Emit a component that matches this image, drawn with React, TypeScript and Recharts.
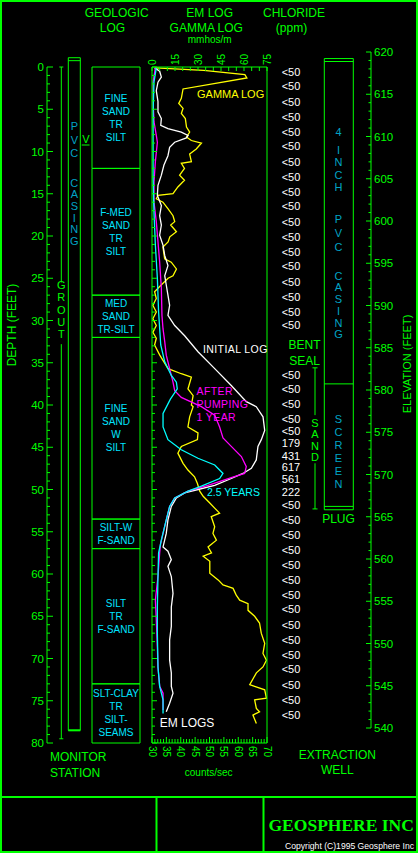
import React from "react";
import {
  ComposedChart,
  Line,
  Scatter,
  XAxis,
  YAxis,
  ReferenceArea,
  ReferenceLine,
} from "recharts";

const GREEN = "#00ff00";
const YELLOW = "#ffff00";
const MAGENTA = "#ff00ff";
const CYAN = "#00ffff";
const GEO_TEXT = "#00e4ff";
const TEAL = "#00a4c4";
const FONT = "'Liberation Sans', Arial, sans-serif";

// shared vertical layout: depth 0 ft at y=67, 80 ft at y=743
const PANEL_TOP = 67;
const PANEL_BOTTOM = 743;
const PANEL_LEFT = 152;
const PANEL_RIGHT = 267;
const DEPTH_AXIS_X = 47;
const ELEV_AXIS_X = 371;
const CHLORIDE_X = 291;

// gamma log: [depth ft, counts/sec]
const gammaLog: [number, number][] = [
  [0.1, 31.1], [0.4, 48.0], [0.9, 62.3], [1.3, 63.0], [2.6, 40.8], [3.7, 40.2], [4.3, 39.3],
  [4.9, 40.8], [5.5, 40.2], [6.1, 41.6], [7.1, 42.0], [7.7, 43.1], [8.3, 42.0], [8.7, 43.7],
  [9.0, 47.2], [9.7, 45.4], [10.3, 43.1], [11.2, 43.7], [11.4, 40.2], [12.0, 41.3], [12.8, 39.6],
  [13.4, 41.3], [14.2, 39.0], [15.0, 37.3], [15.2, 32.1], [15.6, 31.5], [16.0, 33.8], [16.8, 35.6],
  [17.6, 37.3], [18.3, 37.9], [18.7, 36.5], [19.5, 38.5], [20.1, 36.2], [20.7, 35.6], [21.3, 33.8],
  [22.7, 34.4], [23.1, 36.7], [23.9, 38.5], [24.7, 37.3], [25.0, 35.6], [25.8, 33.2], [26.6, 30.9],
  [27.4, 31.5], [28.2, 30.3], [29.0, 31.5], [29.8, 30.3], [30.6, 31.5], [31.4, 30.3], [32.1, 31.5],
  [32.9, 30.9], [34.1, 32.7], [35.7, 35.6], [36.3, 40.2], [36.7, 43.7], [38.1, 42.5], [38.9, 44.3],
  [40.0, 43.7], [40.2, 44.3], [41.4, 43.1], [42.6, 42.5], [43.3, 46.0], [44.1, 45.8], [44.9, 40.2],
  [45.7, 39.0], [46.9, 40.8], [47.7, 42.5], [48.5, 44.8], [49.3, 45.8], [50.2, 46.6], [50.8, 47.8],
  [51.6, 50.1], [52.2, 51.8], [52.8, 53.5], [53.2, 50.6], [54.4, 51.8], [55.2, 51.2], [56.0, 52.4],
  [56.8, 49.5], [57.5, 50.7], [57.9, 47.8], [58.5, 50.1], [59.9, 50.1], [60.7, 53.0], [61.3, 54.7],
  [61.5, 56.5], [61.7, 58.2], [62.5, 59.3], [63.1, 60.5], [63.5, 63.4], [64.3, 63.4], [65.0, 65.7],
  [65.8, 67.4], [67.0, 68.0], [68.2, 69.2], [69.4, 68.6], [70.2, 69.8], [71.0, 68.6], [71.7, 66.3],
  [73.1, 64.0], [73.3, 65.7], [73.7, 69.2], [74.7, 69.8], [74.9, 65.7], [75.9, 66.3], [76.3, 67.4],
  [76.7, 65.1], [77.7, 66.3],
];

// EM logs: [depth ft, mmhos/m]
const initialLog: [number, number][] = [
  [0.1, 1.7], [0.5, 5.0], [1.2, 6.1], [1.8, 3.9], [2.8, 2.8], [4.1, 3.9], [5.3, 3.9], [6.1, 6.1],
  [6.9, 5.7], [7.3, 10.4], [7.7, 19.1], [8.1, 23.5], [8.4, 22.4], [8.9, 14.8], [9.5, 11.5],
  [10.5, 10.4], [11.6, 7.8], [12.8, 6.1], [14.0, 3.9], [15.2, 3.5], [16.4, 6.1], [17.6, 5.0],
  [18.7, 6.1], [19.9, 5.0], [21.1, 7.2], [22.3, 8.3], [23.5, 10.4], [24.7, 8.3], [25.8, 9.3],
  [27.0, 10.4], [28.2, 11.5], [29.4, 10.4], [30.6, 14.8], [31.8, 21.3], [33.7, 30.0], [35.7, 40.9],
  [37.7, 51.7], [39.6, 61.5], [40.2, 68.0], [41.4, 72.4], [43.0, 73.5], [44.1, 71.3], [44.9, 69.1],
  [46.5, 68.0], [47.5, 64.8], [48.1, 59.3], [48.7, 51.7], [49.5, 40.9], [50.0, 30.0], [50.4, 21.3],
  [51.0, 15.9], [52.0, 12.6], [53.6, 10.4], [55.2, 9.3], [56.8, 7.2], [57.3, 10.4], [58.3, 12.6],
  [59.1, 10.4], [60.3, 12.6], [62.3, 13.7], [63.9, 12.6], [66.2, 12.6], [67.8, 11.5], [70.2, 11.5],
  [71.7, 12.6], [73.3, 12.6], [74.1, 13.7], [75.3, 11.5], [76.3, 9.3],
];

const afterOneYear: [number, number][] = [
  [0.1, 2.2], [1.8, 0.7], [4.1, 0.7], [6.5, 1.3], [8.1, 2.8], [8.9, 3.5], [11.2, 2.2], [13.6, 1.3],
  [16.0, 1.3], [18.3, 2.8], [20.7, 3.9], [23.1, 5.0], [26.2, 6.1], [29.4, 6.5], [31.0, 7.2],
  [32.5, 8.3], [34.1, 9.3], [35.7, 11.5], [37.3, 13.7], [38.3, 14.8], [39.1, 19.1], [40.2, 32.2],
  [41.2, 40.9], [42.6, 44.1], [43.9, 46.3], [44.9, 51.7], [46.1, 58.3], [47.3, 61.5], [48.1, 60.4],
  [48.6, 51.7], [49.5, 36.5], [50.2, 23.5], [51.0, 14.8], [52.0, 11.5], [53.6, 9.3], [55.2, 7.2],
  [56.4, 5.6], [57.5, 5.0], [60.3, 3.9], [63.1, 2.2], [65.4, 2.8], [68.6, 3.5], [71.0, 3.9],
  [73.3, 5.0], [74.1, 7.2], [76.1, 7.2],
];

const afterTwoHalfYears: [number, number][] = [
  [0.1, 2.8], [1.8, 1.3], [5.3, 0.7], [9.3, 0.7], [13.2, 0.7], [17.2, 1.3], [21.1, 2.2], [25.0, 3.5],
  [29.0, 4.3], [32.9, 5.7], [34.9, 8.3], [36.5, 12.6], [37.3, 15.9], [38.1, 16.5], [39.3, 12.0],
  [41.0, 7.2], [42.6, 7.2], [44.1, 10.4], [45.3, 19.1], [46.3, 30.0], [47.1, 40.9], [48.1, 46.3],
  [48.7, 44.1], [49.6, 32.2], [50.2, 23.5], [51.0, 14.8], [52.0, 11.5], [53.6, 9.3], [56.0, 6.1],
  [57.5, 4.3], [60.3, 3.9], [63.9, 3.5], [67.0, 3.5], [71.0, 3.9], [73.3, 5.0], [74.9, 7.2],
  [76.5, 7.2],
];

// chloride sample depths (ft) and results (ppm)
const chlorideDepths = [
  0.6, 2.3, 4.1, 5.9, 7.7, 9.4, 11.2, 13.0, 14.8, 16.5, 18.3, 20.1, 21.9, 23.6, 25.4, 27.2, 29.0, 30.5,
  36.4, 38.1, 39.9, 41.7, 43.1, 44.5, 46.0, 47.3, 48.8, 50.3, 51.8,
  53.6, 55.4, 57.2, 58.9, 60.7, 62.5, 64.2, 66.0, 67.8, 69.6, 71.3, 73.1, 74.9, 76.7,
];
const chlorideValues = [
  "<50", "<50", "<50", "<50", "<50", "<50", "<50", "<50", "<50", "<50", "<50", "<50", "<50", "<50",
  "<50", "<50", "<50", "<50",
  "<50", "<50", "<50", "<50", "<50", "179", "431", "617", "561", "222", "<50",
  "<50", "<50", "<50", "<50", "<50", "<50", "<50", "<50", "<50", "<50", "<50", "<50", "<50", "<50",
];

// geologic log intervals (ft)
const geoTops = [0, 12, 27, 32, 53.5, 57, 73];
const geoBottoms = [12, 27, 32, 53.5, 57, 73, 80];
const geoLabels = [
  ["FINE", "SAND", "TR", "SILT"],
  ["F-MED", "SAND", "TR", "SILT"],
  ["MED", "SAND", "TR-SILT"],
  ["FINE", "SAND", "W", "SILT"],
  ["SILT-W", "F-SAND"],
  ["SILT", "TR", "F-SAND"],
  ["SLT-CLAY", "TR", "SILT-", "SEAMS"],
];

// well construction (ft below ground)
const monitorCasing = { top: -1.1, cap: -0.75, bottom: 78.5 };
const monitorGrout = { top: 0, gapTop: 25.5, gapBottom: 32.8, bottom: 79.5 };
const extractionCasing = { top: -1.0, cap: -0.65, screenTop: 37.5, plugTop: 52.0, bottom: 52.4 };
const sandPack = { top: 35.6, gapTop: 41.2, gapBottom: 46.9, bottom: 52.3 };

// axis ticks
const emTicks = [0, 5, 10, 15, 20, 25, 30, 35, 40, 45, 50, 55, 60, 65, 70, 75];
const gammaTicks = Array.from({ length: 41 }, (_, i) => 30 + i);
const depthTicks = Array.from({ length: 81 }, (_, i) => i);
const elevTicks = Array.from({ length: 81 }, (_, i) => 540 + i);

const toRows = (pairs: [number, number][]) => pairs.map(([depth, value]) => ({ depth, value }));
const chlorideRows = chlorideDepths.map((depth, i) => ({ depth, ppm: chlorideValues[i] }));
const elevRows = elevTicks.map((elevation) => ({ elevation }));

const txt = (size: number, color: string) => ({
  fontFamily: FONT,
  fontSize: size,
  fill: color,
});

const EmTick = (p: any) => {
  const v = p.payload.value;
  return (
    <g>
      <line x1={p.x} x2={p.x} y1={PANEL_TOP} y2={PANEL_TOP + 4} stroke={GREEN} />
      {v % 15 === 0 && (
        <text
          x={p.x}
          y={PANEL_TOP - 2}
          transform={`rotate(-90 ${p.x} ${PANEL_TOP - 2})`}
          textAnchor="start"
          dominantBaseline="central"
          {...txt(10, GREEN)}
        >
          {v}
        </text>
      )}
    </g>
  );
};

const GammaTick = (p: any) => {
  const v = p.payload.value;
  const major = v % 5 === 0;
  return (
    <g>
      <line x1={p.x} x2={p.x} y1={PANEL_BOTTOM} y2={PANEL_BOTTOM - (major ? 6 : 4)} stroke={GREEN} />
      {major && (
        <text
          x={p.x}
          y={PANEL_BOTTOM + 3}
          transform={`rotate(90 ${p.x} ${PANEL_BOTTOM + 3})`}
          textAnchor="start"
          dominantBaseline="central"
          {...txt(10, GREEN)}
        >
          {v}
        </text>
      )}
    </g>
  );
};

const PanelDepthTick = (p: any) => {
  const major = p.payload.value % 5 === 0;
  return <line x1={PANEL_LEFT} x2={PANEL_LEFT + (major ? 5 : 3)} y1={p.y} y2={p.y} stroke={GREEN} />;
};

const DepthTick = (p: any) => {
  const v = p.payload.value;
  const major = v % 5 === 0;
  return (
    <g>
      <line x1={DEPTH_AXIS_X} x2={DEPTH_AXIS_X + (major ? 6 : 3)} y1={p.y} y2={p.y} stroke={GREEN} />
      {major && (
        <text x={DEPTH_AXIS_X - 3} y={p.y} textAnchor="end" dominantBaseline="central" {...txt(11.5, GREEN)}>
          {v}
        </text>
      )}
    </g>
  );
};

const ElevTick = (p: any) => {
  const v = p.payload.value;
  const major = v % 5 === 0;
  return (
    <g>
      <line x1={ELEV_AXIS_X} x2={ELEV_AXIS_X - (major ? 5 : 2.5)} y1={p.y} y2={p.y} stroke={GREEN} />
      {major && (
        <text x={ELEV_AXIS_X + 3} y={p.y} textAnchor="start" dominantBaseline="central" {...txt(11.5, GREEN)}>
          {v}
        </text>
      )}
    </g>
  );
};

const geoLabel = (lines: string[]) => (props: any) => {
  const vb = props.viewBox || {};
  const cx = vb.x + vb.width / 2;
  const cy = vb.y + vb.height / 2;
  const step = 13;
  const start = cy - ((lines.length - 1) * step) / 2;
  return (
    <g>
      {lines.map((l, i) => (
        <text key={i} x={cx} y={start + i * step} textAnchor="middle" dominantBaseline="central" {...txt(10, GEO_TEXT)}>
          {l}
        </text>
      ))}
    </g>
  );
};

const ChlorideText = (p: any) => (
  <text x={p.cx} y={p.cy} textAnchor="middle" dominantBaseline="central" {...txt(11, "#ffffff")}>
    {p.payload.ppm}
  </text>
);

function Stack({ word, x, y, step, color, size = 11 }: any) {
  return (
    <g>
      {word.split("").map((c: string, i: number) => (
        <text key={i} x={x} y={y + i * step} textAnchor="middle" dominantBaseline="central" {...txt(size, color)}>
          {c}
        </text>
      ))}
    </g>
  );
}

const abs = (left: number): React.CSSProperties => ({ position: "absolute", left, top: 0 });

export default function App() {
  const seg = (x1: number, y1: number, x2: number, y2: number, w = 1) => (
    <ReferenceLine
      xAxisId="px"
      yAxisId="d"
      segment={[{ x: x1, y: y1 }, { x: x2, y: y2 }]}
      stroke={GREEN}
      strokeWidth={w}
      ifOverflow="visible"
    />
  );

  return (
    <div style={{ position: "fixed", left: 0, top: 0, width: 418, height: 853, background: "#000", overflow: "hidden" }}>
      {/* schematic columns, depth axis and chloride values */}
      <div style={abs(0)}>
        <ComposedChart width={418} height={853} margin={{ top: PANEL_TOP, right: 0, bottom: 853 - PANEL_BOTTOM, left: DEPTH_AXIS_X - 40 }}>
          <XAxis xAxisId="px" type="number" dataKey={() => CHLORIDE_X} domain={[DEPTH_AXIS_X, 418]} hide />
          <YAxis
            yAxisId="d"
            type="number"
            dataKey="depth"
            domain={[0, 80]}
            reversed
            width={40}
            ticks={depthTicks}
            interval={0}
            tickSize={0}
            tickLine={false}
            axisLine={{ stroke: GREEN }}
            tick={DepthTick}
          />
          {geoTops.map((t, i) => (
            <ReferenceArea
              key={i}
              xAxisId="px"
              yAxisId="d"
              x1={92}
              x2={140}
              y1={t}
              y2={geoBottoms[i]}
              stroke={GREEN}
              fill="none"
              fillOpacity={0}
              ifOverflow="visible"
              label={{ content: geoLabel(geoLabels[i]) }}
            />
          ))}
          <ReferenceArea xAxisId="px" yAxisId="d" x1={68.3} x2={80.3} y1={monitorCasing.top} y2={monitorCasing.bottom} stroke={GREEN} fill="none" fillOpacity={0} ifOverflow="visible" />
          {seg(68.3, monitorCasing.cap, 80.3, monitorCasing.cap)}
          {seg(68.3, monitorCasing.bottom, 80.3, monitorCasing.bottom, 2)}
          {seg(61.3, monitorGrout.top, 61.3, monitorGrout.gapTop)}
          {seg(61.3, monitorGrout.gapBottom, 61.3, monitorGrout.bottom)}
          {seg(59.3, monitorGrout.top, 63.3, monitorGrout.top)}
          {seg(59.3, monitorGrout.bottom, 63.3, monitorGrout.bottom)}
          <ReferenceArea xAxisId="px" yAxisId="d" x1={324.3} x2={353.3} y1={extractionCasing.top} y2={extractionCasing.bottom} stroke={GREEN} fill="none" fillOpacity={0} ifOverflow="visible" />
          {seg(324.3, extractionCasing.cap, 353.3, extractionCasing.cap)}
          {seg(324.3, extractionCasing.screenTop, 353.3, extractionCasing.screenTop)}
          {seg(324.3, extractionCasing.plugTop, 353.3, extractionCasing.plugTop)}
          {seg(315, sandPack.top, 315, sandPack.gapTop)}
          {seg(315, sandPack.gapBottom, 315, sandPack.bottom)}
          {seg(312.5, sandPack.top, 317.5, sandPack.top)}
          {seg(312.5, sandPack.bottom, 317.5, sandPack.bottom)}
          <Scatter xAxisId="px" yAxisId="d" data={chlorideRows} shape={ChlorideText} isAnimationActive={false} />
        </ComposedChart>
      </div>

      {/* elevation axis */}
      <div style={abs(0)}>
        <ComposedChart
          data={elevRows}
          width={418}
          height={853}
          margin={{ top: 52, right: 418 - ELEV_AXIS_X - 40, bottom: 125, left: 0 }}
        >
          <XAxis type="number" domain={[0, 1]} hide />
          <YAxis
            orientation="right"
            type="number"
            dataKey="elevation"
            domain={[540, 620]}
            width={40}
            ticks={elevTicks}
            interval={0}
            tickSize={0}
            tickLine={false}
            axisLine={{ stroke: GREEN }}
            tick={ElevTick}
          />
        </ComposedChart>
      </div>

      {/* EM and gamma logs */}
      <div style={abs(0)}>
        <ComposedChart
          layout="vertical"
          width={290}
          height={853}
          margin={{ top: PANEL_TOP - 14, right: 290 - PANEL_RIGHT - 10, bottom: 853 - PANEL_BOTTOM - 16, left: PANEL_LEFT - 10 }}
        >
          <XAxis
            xAxisId="em"
            orientation="top"
            type="number"
            domain={[0, 75]}
            ticks={emTicks}
            interval={0}
            height={14}
            tickSize={0}
            tickLine={false}
            axisLine={{ stroke: GREEN }}
            tick={EmTick}
          />
          <XAxis
            xAxisId="gamma"
            orientation="bottom"
            type="number"
            domain={[30, 70]}
            ticks={gammaTicks}
            interval={0}
            height={16}
            tickSize={0}
            tickLine={false}
            axisLine={{ stroke: GREEN }}
            tick={GammaTick}
          />
          <YAxis
            yAxisId="depth"
            type="number"
            dataKey="depth"
            domain={[0, 80]}
            width={10}
            ticks={depthTicks}
            interval={0}
            tickSize={0}
            tickLine={false}
            axisLine={{ stroke: GREEN }}
            tick={PanelDepthTick}
          />
          <YAxis
            yAxisId="edge"
            orientation="right"
            type="number"
            dataKey="depth"
            domain={[0, 80]}
            width={10}
            tick={false}
            tickLine={false}
            axisLine={{ stroke: GREEN }}
          />
          <Line xAxisId="gamma" yAxisId="depth" data={toRows(gammaLog)} dataKey="value" stroke={YELLOW} strokeWidth={1.3} dot={false} isAnimationActive={false} />
          <Line xAxisId="em" yAxisId="depth" data={toRows(initialLog)} dataKey="value" stroke="#ffffff" strokeWidth={1.3} dot={false} isAnimationActive={false} />
          <Line xAxisId="em" yAxisId="depth" data={toRows(afterOneYear)} dataKey="value" stroke={MAGENTA} strokeWidth={1.3} dot={false} isAnimationActive={false} />
          <Line xAxisId="em" yAxisId="depth" data={toRows(afterTwoHalfYears)} dataKey="value" stroke={CYAN} strokeWidth={1.3} dot={false} isAnimationActive={false} />
        </ComposedChart>
      </div>

      {/* titles, frame and annotations */}
      <svg width={418} height={853} style={{ position: "absolute", left: 0, top: 0, pointerEvents: "none" }}>
        <rect x={1} y={1} width={416} height={851} fill="none" stroke={GREEN} strokeWidth={2} />
        <line x1={0} x2={418} y1={797} y2={797} stroke={GREEN} strokeWidth={2} />
        <line x1={156.5} x2={156.5} y1={797} y2={853} stroke={GREEN} strokeWidth={2} />
        <line x1={263.5} x2={263.5} y1={797} y2={853} stroke={GREEN} strokeWidth={2} />

        <g textAnchor="middle" dominantBaseline="central">
          <text x={116.7} y={13} {...txt(12, GREEN)}>GEOLOGIC</text>
          <text x={112.5} y={28} {...txt(12, GREEN)}>LOG</text>
          <text x={209.7} y={13} {...txt(12, GREEN)}>EM LOG</text>
          <text x={206.3} y={28} {...txt(12, GREEN)}>GAMMA LOG</text>
          <text x={209.7} y={39} {...txt(10, GREEN)}>mmhos/m</text>
          <text x={294} y={13} {...txt(12, GREEN)}>CHLORIDE</text>
          <text x={291.5} y={28} {...txt(12, GREEN)}>(ppm)</text>
          <text x={208.7} y={772} {...txt(10, GREEN)}>counts/sec</text>
          <text x={337.3} y={755} {...txt(12, GREEN)}>EXTRACTION</text>
          <text x={337.3} y={769.5} {...txt(12, GREEN)}>WELL</text>
          <text x={304.5} y={345} {...txt(12, GREEN)}>BENT</text>
          <text x={304.5} y={360.7} {...txt(12, GREEN)}>SEAL</text>
          <text x={338.5} y={519} {...txt(12, GREEN)}>PLUG</text>
          <text x={12} y={325} transform="rotate(-90 12 325)" {...txt(12, GREEN)}>DEPTH (FEET)</text>
          <text x={407} y={364} transform="rotate(-90 407 364)" {...txt(11, GREEN)}>ELEVATION (FEET)</text>
          <text x={85.8} y={139} {...txt(11, GREEN)}>V</text>
        </g>
        <line x1={81.7} x2={89.5} y1={145} y2={145} stroke={GREEN} />

        <text x={50} y={761} {...txt(12, GREEN)}>MONITOR</text>
        <text x={50} y={776.5} {...txt(12, GREEN)}>STATION</text>

        <Stack word="PVC" x={74.3} y={126} step={13.6} color={TEAL} />
        <Stack word="CASING" x={74.3} y={182.7} step={11.6} color={TEAL} />
        <Stack word="GROUT" x={61.3} y={285} step={12.3} color={GREEN} />
        <Stack word="4" x={338.5} y={132.3} step={12} color={TEAL} />
        <Stack word="INCH" x={338.5} y={150} step={12.4} color={TEAL} />
        <Stack word="PVC" x={338.5} y={219.3} step={14} color={TEAL} />
        <Stack word="CASING" x={338.5} y={275.7} step={11.7} color={TEAL} />
        <Stack word="SCREEN" x={338.5} y={419} step={12.9} color={TEAL} />
        <Stack word="SAND" x={315} y={422.7} step={11.5} color={GREEN} />

        <g dominantBaseline="central">
          <text x={197} y={94.3} {...txt(11, YELLOW)}>GAMMA LOG</text>
          <text x={203} y={349} letterSpacing={0.4} {...txt(10.5, "#ffffff")}>INITIAL LOG</text>
          <text x={196.5} y={391} letterSpacing={0.4} {...txt(10.5, MAGENTA)}>AFTER</text>
          <text x={196.5} y={404} letterSpacing={0.4} {...txt(10.5, MAGENTA)}>PUMPING</text>
          <text x={196.5} y={416.7} letterSpacing={0.4} {...txt(10.5, MAGENTA)}>1 YEAR</text>
          <text x={207} y={491.7} {...txt(10.5, CYAN)}>2.5 YEARS</text>
          <text x={159.7} y={722.7} {...txt(12, "#ffffff")}>EM LOGS</text>
        </g>

        <text
          x={268.5}
          y={831}
          fontFamily="'Liberation Serif', 'Times New Roman', serif"
          fontWeight="bold"
          fontSize={17.5}
          fill={GREEN}
        >
          GEOSPHERE INC
        </text>
        <text x={285} y={849} {...txt(8.6, "#ffffff")}>
          Copyright (C)1995 Geosphere Inc
        </text>
      </svg>
    </div>
  );
}
